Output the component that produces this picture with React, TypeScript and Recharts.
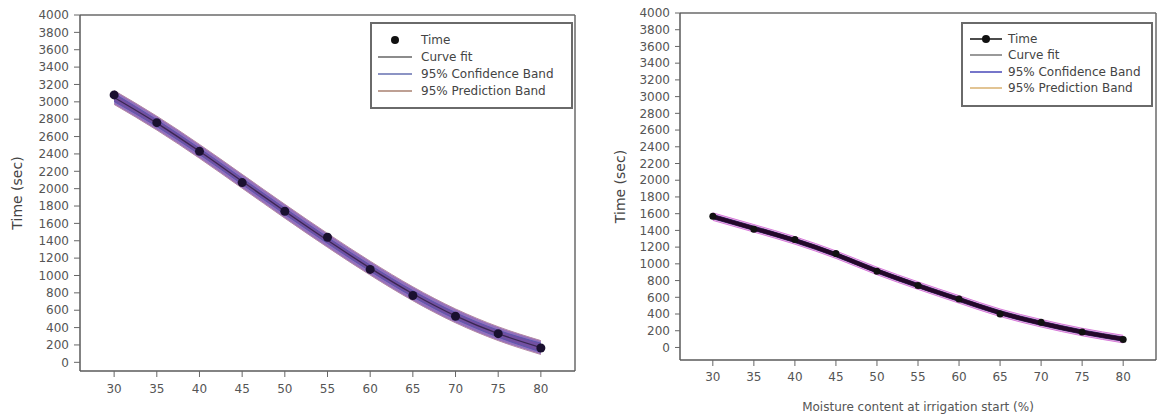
import React from 'react';
import { ComposedChart, Area, Line, XAxis, YAxis, ReferenceLine, Legend, Label } from 'recharts';

const FONT = '"DejaVu Sans", Arial, sans-serif';

// moisture content at irrigation start (%)
const moisture = [30, 35, 40, 45, 50, 55, 60, 65, 70, 75, 80];
const timeTicks = [0, 200, 400, 600, 800, 1000, 1200, 1400, 1600, 1800, 2000, 2200, 2400, 2600, 2800, 3000, 3200, 3400, 3600, 3800, 4000];

// left panel
const timeA = [3080, 2760, 2430, 2070, 1740, 1440, 1070, 770, 530, 330, 165];
const fitA = [3050, 2755, 2430, 2085, 1740, 1405, 1085, 790, 535, 330, 170];
const confLoA = [3005, 2717, 2395, 2050, 1705, 1370, 1050, 755, 498, 290, 120];
const confHiA = [3095, 2793, 2465, 2120, 1775, 1440, 1120, 825, 572, 370, 220];
const predLoA = [2970, 2675, 2350, 2005, 1660, 1325, 1005, 710, 455, 250, 90];
const predHiA = [3130, 2835, 2510, 2165, 1820, 1485, 1165, 870, 615, 410, 250];

// right panel
const timeB = [1570, 1415, 1290, 1125, 910, 740, 580, 400, 300, 185, 95];
const fitB = [1565, 1425, 1280, 1110, 915, 740, 575, 415, 290, 185, 100];
const confLoB = [1540, 1400, 1255, 1085, 890, 715, 550, 390, 265, 160, 75];
const confHiB = [1590, 1450, 1305, 1135, 940, 765, 600, 440, 315, 210, 125];
const predLoB = [1520, 1380, 1235, 1065, 870, 695, 530, 370, 245, 140, 55];
const predHiB = [1610, 1470, 1325, 1155, 960, 785, 620, 460, 335, 230, 145];

type Item = { label: string; kind: 'dot' | 'line' | 'lineDot'; color: string };

const legendA: Item[] = [
  { label: 'Time', kind: 'dot', color: '#111' },
  { label: 'Curve fit', kind: 'line', color: '#666' },
  { label: '95% Confidence Band', kind: 'line', color: '#6670b0' },
  { label: '95% Prediction Band', kind: 'line', color: '#a88070' },
];
const legendB: Item[] = [
  { label: 'Time', kind: 'lineDot', color: '#111' },
  { label: 'Curve fit', kind: 'line', color: '#777' },
  { label: '95% Confidence Band', kind: 'line', color: '#4848b8' },
  { label: '95% Prediction Band', kind: 'line', color: '#d8b070' },
];

const buildRows = (time: number[], fit: number[], cLo: number[], cHi: number[], pLo: number[], pHi: number[]) =>
  moisture.map((m, i) => ({
    m,
    time: time[i],
    fit: fit[i],
    conf: [cLo[i], cHi[i]],
    pred: [pLo[i], pHi[i]],
  }));

const rowsA = buildRows(timeA, fitA, confLoA, confHiA, predLoA, predHiA);
const rowsB = buildRows(timeB, fitB, confLoB, confHiB, predLoB, predHiB);

const LegendBox = ({ items, rowH, padTop, padLeft, symW, gap }: any) => (
  <div
    style={{
      width: '100%',
      height: '100%',
      boxSizing: 'border-box',
      border: '2px solid #6a6a6a',
      background: '#fff',
      paddingTop: padTop,
      paddingLeft: padLeft,
    }}
  >
    {items.map((it: Item) => (
      <div key={it.label} style={{ display: 'flex', alignItems: 'center', height: rowH }}>
        <svg width={symW} height={10} style={{ flex: 'none' }}>
          {it.kind !== 'dot' && <line x1={0} x2={symW} y1={5} y2={5} stroke={it.color} strokeWidth={1.5} />}
          {it.kind !== 'line' && <circle cx={symW / 2} cy={5} r={4} fill={it.color} />}
        </svg>
        <span style={{ marginLeft: gap, fontSize: 12, color: '#444', fontFamily: FONT, whiteSpace: 'nowrap', lineHeight: 1 }}>
          {it.label}
        </span>
      </div>
    ))}
  </div>
);

const YTitle = (props: any) => {
  const { viewBox, dx } = props;
  const x = viewBox.x + dx;
  const y = viewBox.y + viewBox.height / 2;
  return (
    <text x={x} y={y} transform={`rotate(-90 ${x} ${y})`} textAnchor="middle" dominantBaseline="central"
      fontSize={14} fill="#444" fontFamily={FONT}>
      Time (sec)
    </text>
  );
};

const XTitle = (props: any) => {
  const { viewBox } = props;
  return (
    <text x={viewBox.x + viewBox.width / 2} y={viewBox.y + 47} textAnchor="middle" dominantBaseline="central"
      fontSize={12} fill="#555" fontFamily={FONT}>
      Moisture content at irrigation start (%)
    </text>
  );
};

const tickStyle = { fontSize: 12, fill: '#555', fontFamily: FONT };
const axisLine = { stroke: '#5a5a5a', strokeWidth: 1.5 };
const tickLine = { stroke: '#666' };

export default function App() {
  return (
    <div style={{ position: 'relative', width: 1159, height: 416, background: '#fff' }}>
      <style>{'body{margin:0}'}</style>

      {/* left panel */}
      <div style={{ position: 'absolute', left: 0, top: 0 }}>
        <ComposedChart width={580} height={416} data={rowsA} margin={{ top: 15, right: 5, bottom: 15, left: 0 }}>
          <XAxis dataKey="m" type="number" domain={[26, 84]} ticks={moisture} interval={0}
            tick={tickStyle} axisLine={axisLine} tickLine={tickLine} tickSize={6} tickMargin={7} height={30} />
          <YAxis type="number" domain={[-100, 4000]} ticks={timeTicks} interval={0} width={80}
            tick={tickStyle} axisLine={axisLine} tickLine={tickLine} tickSize={6} tickMargin={5}>
            <Label content={(p: any) => <YTitle {...p} dx={17} />} />
          </YAxis>
          <ReferenceLine y={4000} stroke="#6a6a6a" strokeWidth={1.5} />
          <ReferenceLine x={84} stroke="#6a6a6a" strokeWidth={1.5} />
          <Area dataKey="pred" type="monotone" fill="#9470bc" fillOpacity={1} stroke="#b58aa4" strokeWidth={1}
            dot={false} activeDot={false} isAnimationActive={false} />
          <Area dataKey="conf" type="monotone" fill="#7250a2" fillOpacity={1} stroke="#5a58ae" strokeWidth={1}
            dot={false} activeDot={false} isAnimationActive={false} />
          <Line dataKey="fit" type="monotone" stroke="#3a2852" strokeWidth={1.3} dot={false} activeDot={false}
            isAnimationActive={false} />
          <Line dataKey="time" stroke="none" strokeWidth={0}
            dot={{ r: 4.5, fill: '#1a1030', stroke: 'none' }} activeDot={false} isAnimationActive={false} />
          <Legend layout="vertical" align="center" verticalAlign="middle"
            wrapperStyle={{ left: 370, top: 22, width: 203, height: 87 }}
            content={() => <LegendBox items={legendA} rowH={17} padTop={7} padLeft={6} symW={34} gap={9} />} />
        </ComposedChart>
      </div>

      {/* right panel */}
      <div style={{ position: 'absolute', left: 580, top: 0 }}>
        <ComposedChart width={579} height={416} data={rowsB} margin={{ top: 13, right: 3, bottom: 0, left: 0 }}>
          <XAxis dataKey="m" type="number" domain={[26, 84]} ticks={moisture} interval={0}
            tick={tickStyle} axisLine={axisLine} tickLine={tickLine} tickSize={6} tickMargin={6} height={56}>
            <Label content={(p: any) => <XTitle {...p} />} />
          </XAxis>
          <YAxis type="number" domain={[-150, 4000]} ticks={timeTicks} interval={0} width={100}
            tick={tickStyle} axisLine={axisLine} tickLine={tickLine} tickSize={5} tickMargin={5}>
            <Label content={(p: any) => <YTitle {...p} dx={40} />} />
          </YAxis>
          <ReferenceLine y={4000} stroke="#6a6a6a" strokeWidth={1.5} />
          <ReferenceLine x={84} stroke="#6a6a6a" strokeWidth={1.5} />
          <Area dataKey="pred" type="monotone" fill="#eab8ec" fillOpacity={1} stroke="#d67ad8" strokeWidth={1}
            dot={false} activeDot={false} isAnimationActive={false} />
          <Area dataKey="conf" type="monotone" fill="#3e1844" fillOpacity={1} stroke="#3a2a6a" strokeWidth={1}
            dot={false} activeDot={false} isAnimationActive={false} />
          <Line dataKey="time" stroke="#111" strokeWidth={1.5}
            dot={{ r: 3.5, fill: '#111', stroke: 'none' }} activeDot={false} isAnimationActive={false} />
          <Line dataKey="fit" type="monotone" stroke="#24082a" strokeWidth={4} dot={false} activeDot={false}
            isAnimationActive={false} />
          <Legend layout="vertical" align="center" verticalAlign="middle"
            wrapperStyle={{ left: 381, top: 22, width: 192, height: 85 }}
            content={() => <LegendBox items={legendB} rowH={16.3} padTop={7} padLeft={7} symW={32} gap={6} />} />
        </ComposedChart>
      </div>
    </div>
  );
}
